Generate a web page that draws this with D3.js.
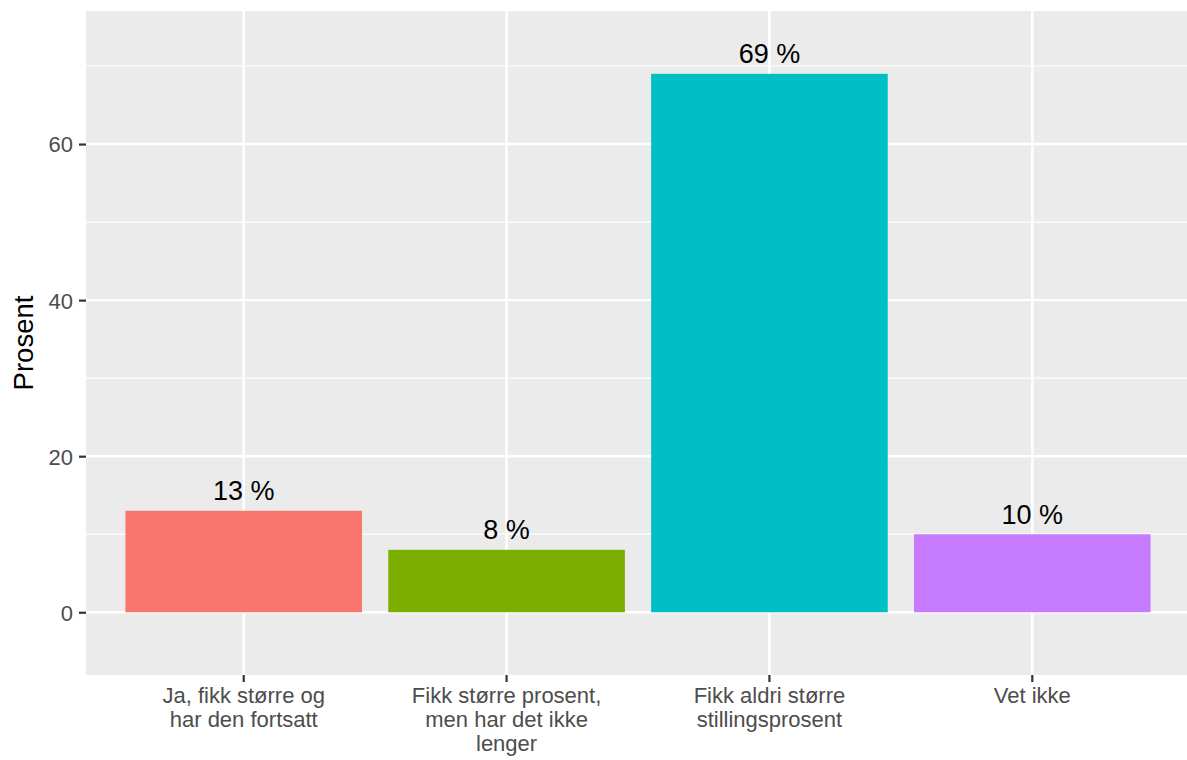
<!DOCTYPE html>
<html>
<head>
<meta charset="utf-8">
<script src="https://cdn.jsdelivr.net/npm/d3@7"></script>
<style>
  body { margin: 0; background: #fff; }
  text { font-family: "Liberation Sans", Arial, sans-serif; }
</style>
</head>
<body>
<div class="canvas"></div>
<script>
// data
const categories = [
  "Ja, fikk større og\nhar den fortsatt",
  "Fikk større prosent,\nmen har det ikke\nlenger",
  "Fikk aldri større\nstillingsprosent",
  "Vet ikke"
];
const values = [13, 8, 69, 10];
const barLabels = ["13 %", "8 %", "69 %", "10 %"];
const colors = ["#F8766D", "#7CAE00", "#00BFC4", "#C77CFF"];
const yTicks = [0, 20, 40, 60];
const yMinor = [10, 30, 50, 70];

const W = 1187, H = 760;
const panel = { left: 86, right: 1190, top: 11, bottom: 675 };

const svg = d3.select(".canvas").append("svg")
    .attr("width", W)
    .attr("height", H);

// scales
const x = d3.scaleBand()
    .domain(categories)
    .range([panel.left, panel.right])
    .paddingInner(0.1)
    .paddingOuter(0.15);
const y = d3.scaleLinear()
    .domain([-8.04, 77.05])
    .range([panel.bottom, panel.top]);

// panel background
svg.append("rect")
    .attr("x", panel.left)
    .attr("y", panel.top)
    .attr("width", panel.right - panel.left)
    .attr("height", panel.bottom - panel.top)
    .attr("fill", "#EBEBEB");

// minor grid
svg.append("g").selectAll("line")
  .data(yMinor)
  .join("line")
    .attr("x1", panel.left).attr("x2", panel.right)
    .attr("y1", d => y(d)).attr("y2", d => y(d))
    .attr("stroke", "#fff").attr("stroke-width", 1.2);

// major grid
svg.append("g").selectAll("line")
  .data(yTicks)
  .join("line")
    .attr("x1", panel.left).attr("x2", panel.right)
    .attr("y1", d => y(d)).attr("y2", d => y(d))
    .attr("stroke", "#fff").attr("stroke-width", 2.4);

svg.append("g").selectAll("line")
  .data(categories)
  .join("line")
    .attr("x1", d => x(d) + x.bandwidth() / 2).attr("x2", d => x(d) + x.bandwidth() / 2)
    .attr("y1", panel.top).attr("y2", panel.bottom)
    .attr("stroke", "#fff").attr("stroke-width", 2.4);

// bars
svg.append("g").selectAll("rect")
  .data(values)
  .join("rect")
    .attr("x", (d, i) => x(categories[i]))
    .attr("y", d => y(d))
    .attr("width", x.bandwidth())
    .attr("height", d => y(0) - y(d))
    .attr("fill", (d, i) => colors[i]);

// bar labels
svg.append("g").selectAll("text")
  .data(values)
  .join("text")
    .attr("x", (d, i) => x(categories[i]) + x.bandwidth() / 2)
    .attr("y", d => y(d) - 10.5)
    .attr("text-anchor", "middle")
    .style("font-size", "27px")
    .style("fill", "#000")
    .text((d, i) => barLabels[i]);

// y axis
const yAxis = svg.append("g")
    .attr("transform", "translate(" + panel.left + ",0)")
    .call(d3.axisLeft(y).tickValues(yTicks).tickSize(7).tickPadding(6));
yAxis.select(".domain").remove();
yAxis.selectAll(".tick line").attr("stroke", "#333333").attr("stroke-width", 2.2);
yAxis.selectAll(".tick text")
    .style("font-size", "22px")
    .style("fill", "#4D4D4D")
    .attr("dy", "0.36em");

// x axis
const xAxis = svg.append("g")
    .attr("transform", "translate(0," + panel.bottom + ")")
    .call(d3.axisBottom(x).tickSize(7).tickFormat(""));
xAxis.select(".domain").remove();
xAxis.selectAll(".tick line").attr("stroke", "#333333").attr("stroke-width", 2.2);
xAxis.selectAll(".tick").each(function(d) {
  const lines = d.split("\n");
  const t = d3.select(this).append("text")
      .attr("text-anchor", "middle")
      .style("font-size", "22px")
      .style("fill", "#4D4D4D");
  lines.forEach((l, i) => {
    t.append("tspan").attr("x", 0).attr("y", 28 + i * 23.8).text(l);
  });
});

// y axis title
svg.append("text")
    .attr("transform", "translate(33," + ((panel.top + panel.bottom) / 2) + ") rotate(-90)")
    .attr("text-anchor", "middle")
    .style("font-size", "27.5px")
    .style("fill", "#000")
    .text("Prosent");
</script>
</body>
</html>
